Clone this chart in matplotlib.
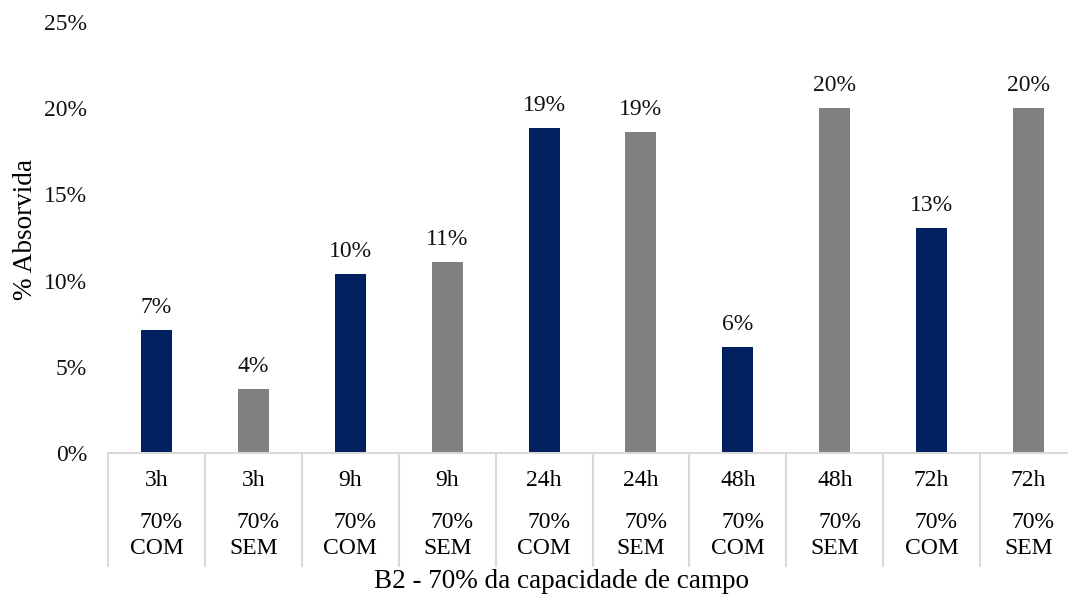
import matplotlib.pyplot as plt
from matplotlib.ticker import PercentFormatter

# absorbed fraction per treatment
horas = ['3h', '3h', '9h', '9h', '24h', '24h', '48h', '48h', '72h', '72h']
umidade = ['70%'] * 10
grupo = ['COM', 'SEM', 'COM', 'SEM', 'COM', 'SEM', 'COM', 'SEM', 'COM', 'SEM']
absorvida = [0.0713, 0.0371, 0.1038, 0.1108, 0.1885, 0.1862, 0.0615, 0.2000, 0.1305, 0.2000]

cores = {'COM': '#002060', 'SEM': '#808080'}

plt.rcParams['font.family'] = ['Liberation Serif', 'DejaVu Serif']
fs = 17
fs_titulo = 19.5

W, H = 1068, 599
fig = plt.figure(figsize=(W / 100, H / 100), dpi=100)
ax = fig.add_axes([108 / W, (H - 453) / H, 969 / W, 431 / H])

x = range(len(absorvida))
ax.bar(x, absorvida, width=0.32, color=[cores[g] for g in grupo], zorder=2)

for i, v in enumerate(absorvida):
    ax.annotate(f'{v:.0%}', (i, v), xytext=(0, 12.5), textcoords='offset points',
                ha='center', va='baseline', fontsize=fs, color='#111111')

ax.set_xlim(-0.5, len(absorvida) - 0.5)
ax.set_ylim(0, 0.25)
ax.set_yticks([0, 0.05, 0.10, 0.15, 0.20, 0.25])
ax.yaxis.set_major_formatter(PercentFormatter(1.0, decimals=0))
ax.tick_params(axis='y', length=0, pad=15, labelsize=fs, labelcolor='#111111')
ax.set_xticks([])

for s in ['top', 'right', 'left']:
    ax.spines[s].set_visible(False)
ax.spines['bottom'].set_color('#d9d9d9')
ax.spines['bottom'].set_linewidth(1.5)

# category separators below the axis
hpx = 431
ax.vlines([i - 0.5 for i in range(len(absorvida) + 1)], 0, -114 / hpx,
          transform=ax.get_xaxis_transform(), colors='#d9d9d9', lw=1.5, clip_on=False)

tr = ax.get_xaxis_transform()
for i in x:
    ax.text(i, -27 / hpx, horas[i], transform=tr, ha='center', va='center', fontsize=fs)
    ax.text(i + 0.05, -70 / hpx, umidade[i], transform=tr, ha='center', va='center', fontsize=fs)
    ax.text(i, -96 / hpx, grupo[i], transform=tr, ha='center', va='center', fontsize=fs)

fig.text(561 / W, 1 - 581 / H, 'B2 - 70% da capacidade de campo', ha='center', va='center',
         fontsize=fs_titulo)
fig.text(26 / W, 1 - 230 / H, '% Absorvida', rotation=90, ha='center', va='center',
         fontsize=fs_titulo)

fig.savefig('out.png', dpi=100)
